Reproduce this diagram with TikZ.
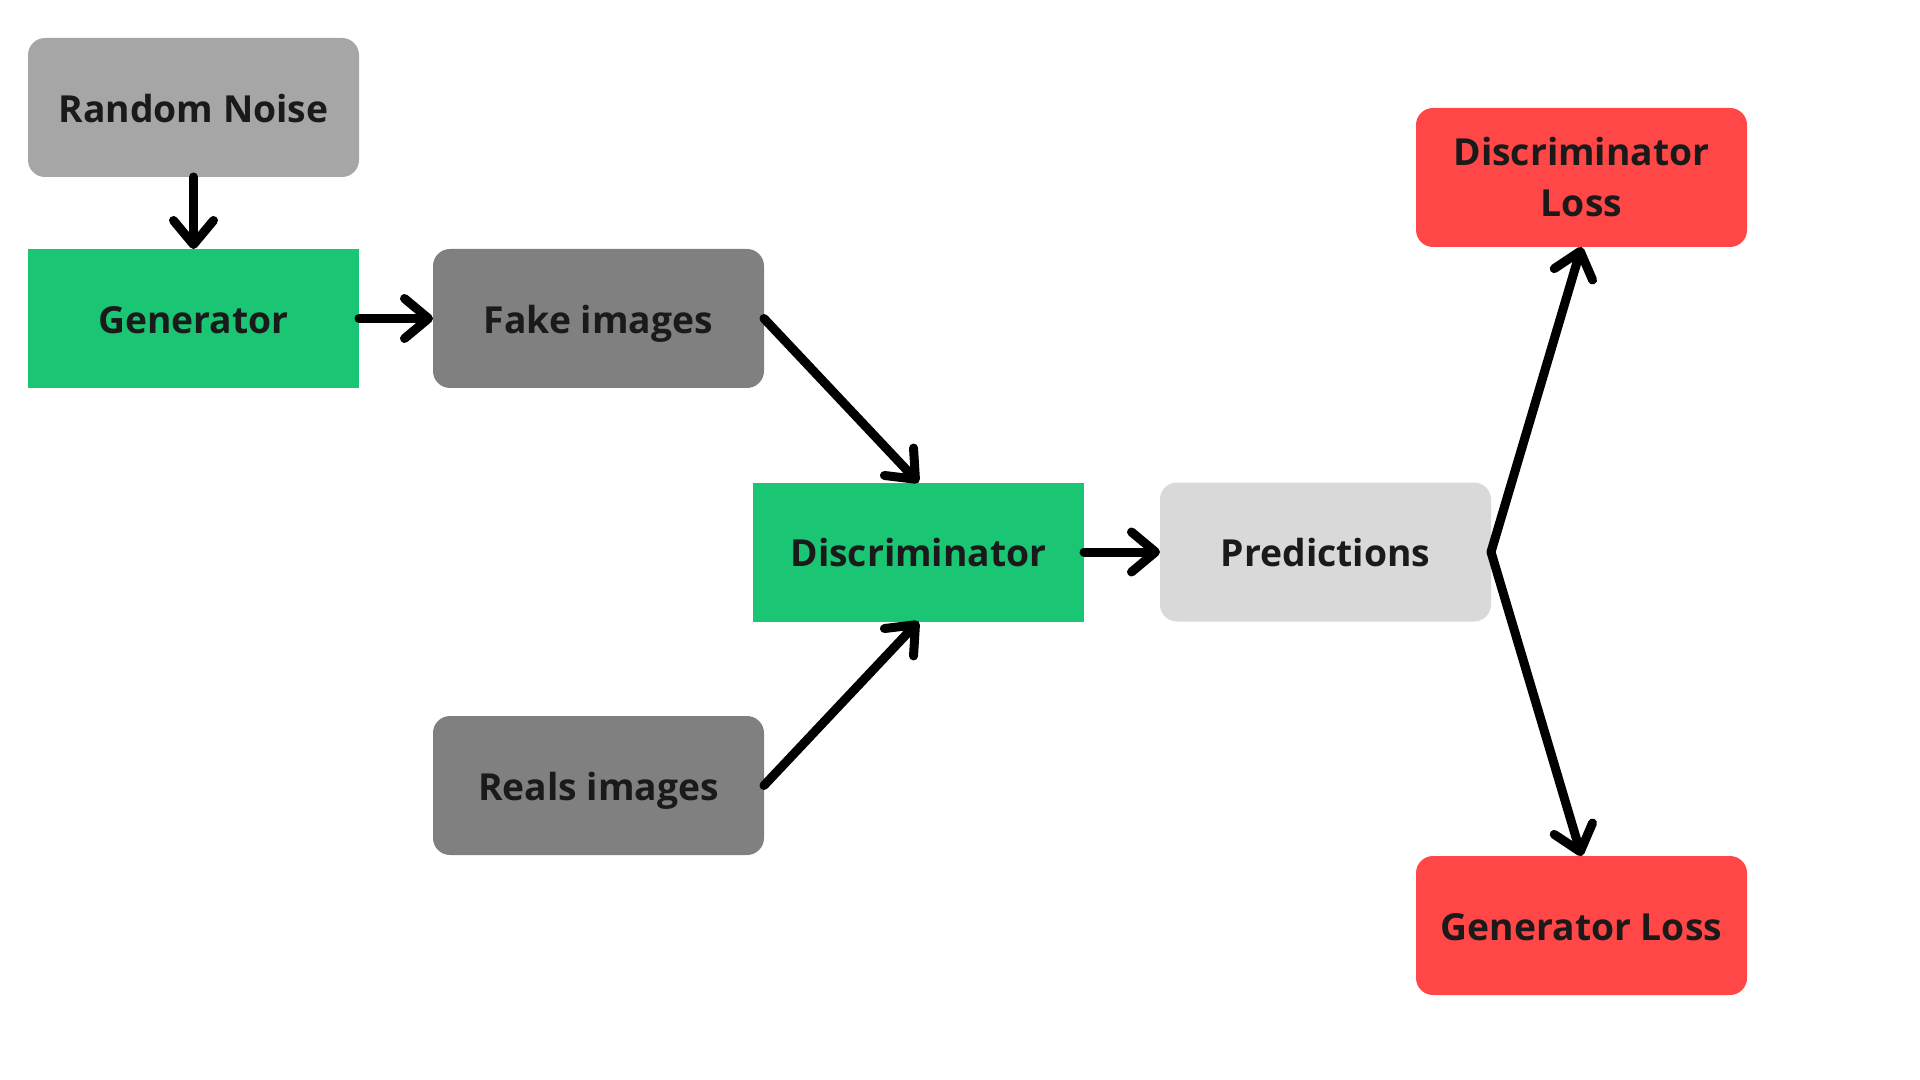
\documentclass[tikz,border=0pt]{standalone}
\usepackage{fontspec}
\setmainfont{Open Sans}
\usepackage{tikz}
\usetikzlibrary{arrows.meta, positioning}

\definecolor{noisegray}{HTML}{A6A6A6}
\definecolor{imggray}{HTML}{808080}
\definecolor{predgray}{HTML}{D9D9D9}
\definecolor{netgreen}{HTML}{1AC574}
\definecolor{lossred}{HTML}{FF4747}
\definecolor{txt}{HTML}{1A1A1A}

\begin{document}
\begin{tikzpicture}[>={Straight Barb[length=2.4mm, width=4mm, round]}, line width=0.09cm]
        \tikzstyle{block} = [rectangle, minimum height=1.39cm, minimum width=3.31cm, text=txt, font=\fontsize{10.6}{14.5}\selectfont\bfseries, text height=10.35pt, text depth=2.05pt, inner sep=0pt, outer sep=0pt]
        \tikzstyle{soft} = [block, rounded corners=0.17cm]
        \tikzstyle{link} = [->, line cap=round, line join=round]

        \useasboundingbox (0,0) rectangle (19.2,-10.8);

        % Intrare si generator
        \node [soft, fill=noisegray] (noise) at (1.935,-1.075) {Random Noise};
        \node [block, fill=netgreen, below=0.72cm of noise] (gen) {Generator};
        \node [soft, fill=imggray, right=0.74cm of gen] (fake) {Fake images};

        % Discriminator
        \node [block, fill=netgreen] (disc) at (9.185,-5.52) {Discriminator};
        \node [soft, fill=imggray] (real) at (5.985,-7.855) {Reals images};
        \node [soft, fill=predgray, right=0.76cm of disc] (pred) {Predictions};

        % Pierderi
        \node [soft, fill=lossred, align=center, text height=, text depth=] (dloss) at (15.815,-1.775) {Discriminator\\Loss};
        \node [soft, fill=lossred] (gloss) at (15.815,-9.255) {Generator Loss};

        % Sageti
        \draw [link] (noise) -- (gen);
        \draw [link] (gen) -- (fake);
        \draw [link] (fake.east) -- (disc.north);
        \draw [link] (real.east) -- (disc.south);
        \draw [link] (disc) -- (pred);
        \draw [link] (pred.east) -- (dloss.south);
        \draw [link] (pred.east) -- (gloss.north);

    \end{tikzpicture}
\end{document}
